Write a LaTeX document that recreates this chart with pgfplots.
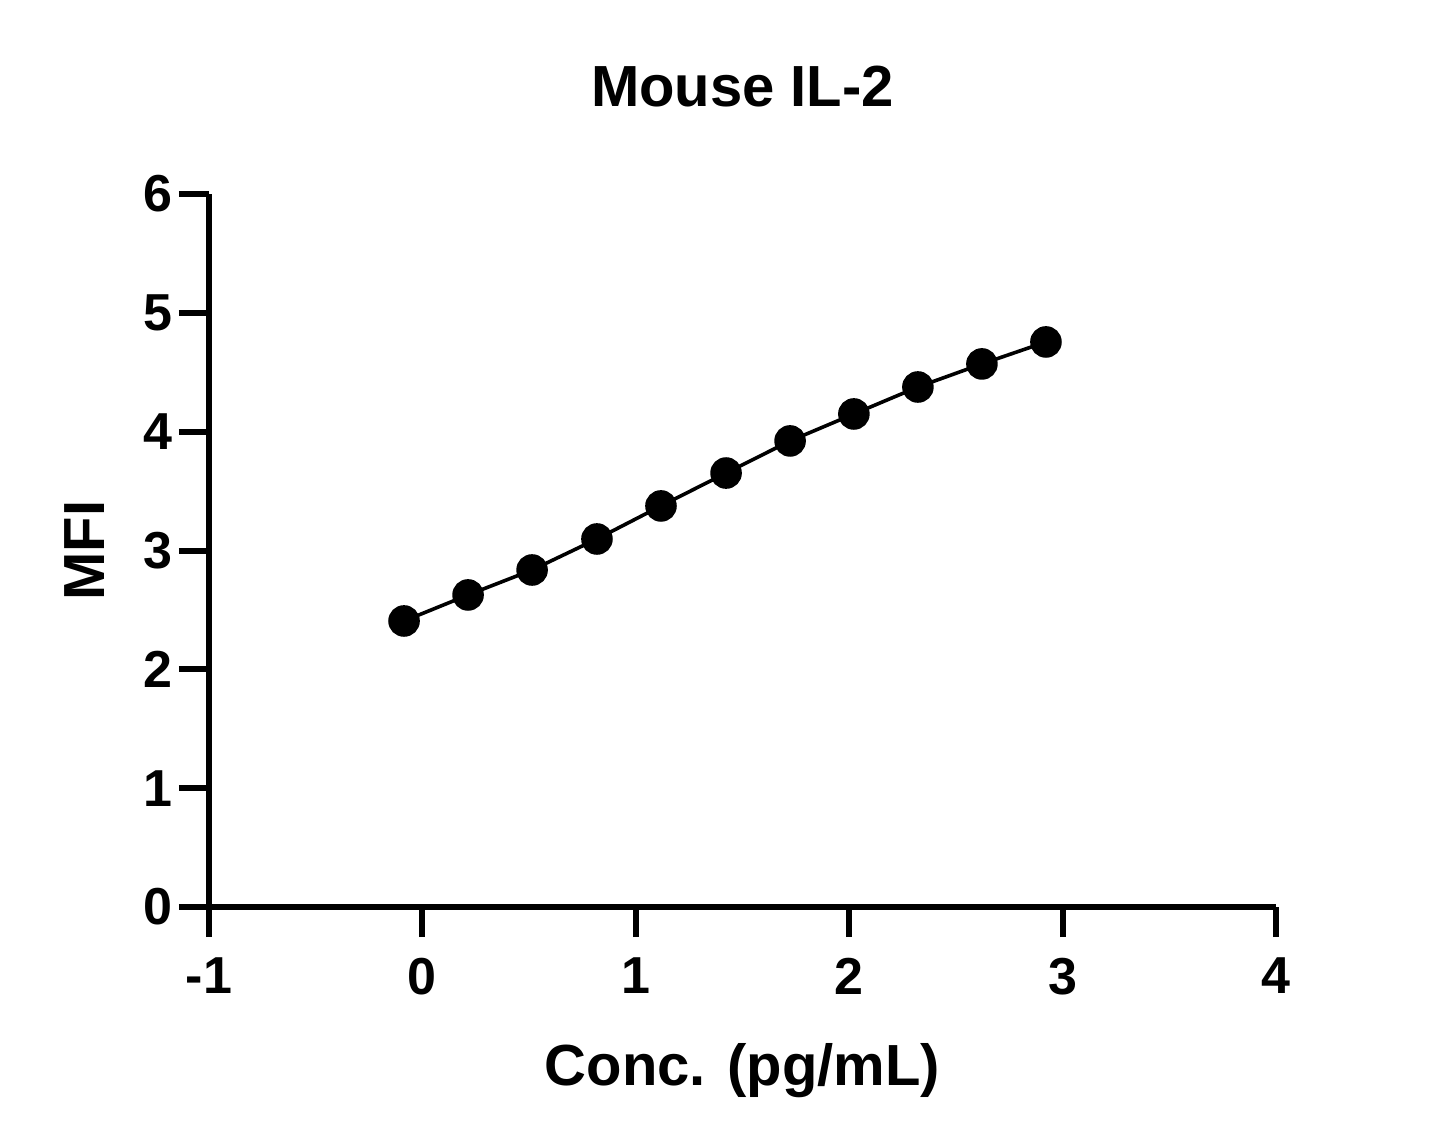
\documentclass[border=0pt]{standalone}
\usepackage{fontspec}
\setmainfont{Liberation Sans}
\usepackage{pgfplots}
\pgfplotsset{compat=1.18}
\begin{document}
\begin{tikzpicture}
\useasboundingbox (-104.5pt,-120pt) rectangle (618pt,453.5pt);
\begin{axis}[
  at={(0,0)}, anchor=south west,
  scale only axis,
  width=533.5pt, height=356.5pt,
  xmin=-1, xmax=4, ymin=0, ymax=6,
  axis x line=bottom, axis y line=left,
  axis line style={-, line width=3pt},
  xtick={-1,0,1,2,3,4}, xticklabels={-1,0,1,2,3,4},
  ytick={0,1,2,3,4,5,6}, yticklabels={0,1,2,3,4,5,6},
  tick align=outside,
  major tick length=15pt,
  tick style={line width=3pt, black},
  ticklabel style={font=\bfseries\fontsize{26}{26}\selectfont},
  xticklabel style={yshift=-7pt},
  title={Mouse IL-2},
  title style={font=\bfseries\fontsize{29}{29}\selectfont, at={(axis description cs:0.5,1)}, anchor=center, yshift=47.5pt},
  xlabel={Conc. (pg/mL)},
  xlabel style={font=\bfseries\fontsize{29}{29}\selectfont, at={(axis description cs:0.5,0)}, anchor=center, yshift=-82pt},
  ylabel={MFI},
  ylabel style={font=\bfseries\fontsize{29}{29}\selectfont, at={(axis description cs:0,0.5)}, anchor=center, yshift=62pt},
  clip=false,
]
\addplot[black, line width=1.8pt, mark=*, mark size=7pt, mark options={solid, fill=black}] coordinates {
(-0.086,2.407) (0.214,2.626) (0.514,2.836) (0.818,3.097) (1.118,3.375)
(1.423,3.652) (1.723,3.922) (2.022,4.149) (2.322,4.376) (2.622,4.570) (2.922,4.755)
};
\end{axis}
\end{tikzpicture}
\end{document}
